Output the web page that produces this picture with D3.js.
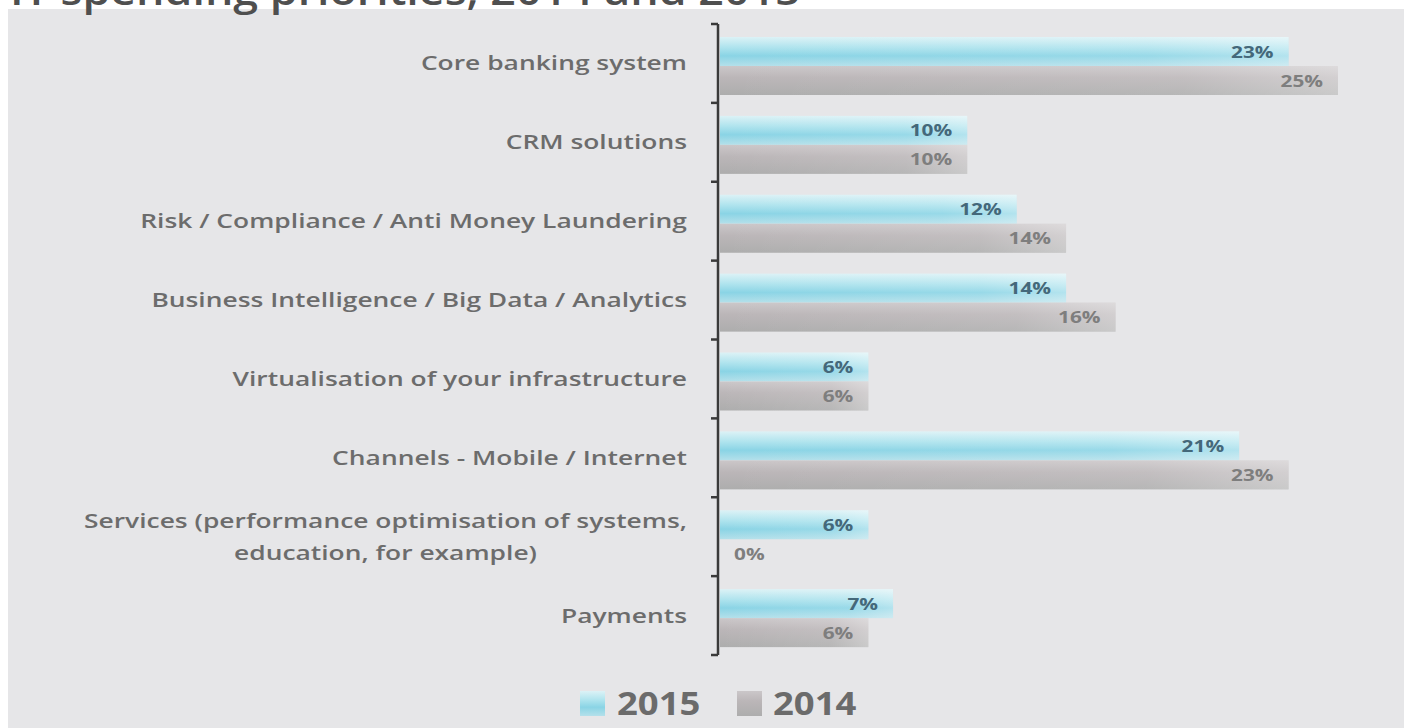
<!DOCTYPE html>
<html>
<head>
<meta charset="utf-8">
<script src="https://cdn.jsdelivr.net/npm/d3@7"></script>
<style>
  html, body { margin: 0; padding: 0; background: #ffffff; }
  svg { display: block; }
  text { font-family: "Open Sans", "DejaVu Sans", sans-serif; }
</style>
</head>
<body>
<svg id="chart" width="1404" height="728"></svg>
<script>
// Survey data: share of IT spending priorities by area
const categories = [
  "Core banking system",
  "CRM solutions",
  "Risk / Compliance / Anti Money Laundering",
  "Business Intelligence / Big Data / Analytics",
  "Virtualisation of your infrastructure",
  "Channels - Mobile / Internet",
  "Services (performance optimisation of systems,\neducation, for example)",
  "Payments"
];
const values2015 = [23, 10, 12, 14, 6, 21, 6, 7];
const values2014 = [25, 10, 14, 16, 6, 23, 0, 6];
const seriesNames = ["2015", "2014"];
const titleText = "IT spending priorities, 2014 and 2015";

const W = 1404, H = 728;
// horizontal stretch applied to the lettering
const SX_TITLE = 1.12, SX_LABEL = 1.32, SX_VALUE = 1.3, SX_LEGEND = 1.14;

const svg = d3.select("#chart");
const defs = svg.append("defs");

// Bar gradients
const g15 = defs.append("linearGradient").attr("id", "grad2015")
  .attr("x1", 0).attr("y1", 0).attr("x2", 0).attr("y2", 1);
[[0, "#dcf2f6"], [0.35, "#b0e4ee"], [0.65, "#8ad4e5"], [1, "#b4e0ea"]]
  .forEach(([o, c]) => g15.append("stop").attr("offset", o).attr("stop-color", c));

const g14 = defs.append("linearGradient").attr("id", "grad2014")
  .attr("x1", 0).attr("y1", 0).attr("x2", 0).attr("y2", 1);
[[0, "#cbc7c9"], [0.4, "#bbb6b8"], [1, "#adadad"]]
  .forEach(([o, c]) => g14.append("stop").attr("offset", o).attr("stop-color", c));

// Light fade toward the end of each bar
const fade = defs.append("linearGradient").attr("id", "fade")
  .attr("x1", 0).attr("y1", 0).attr("x2", 1).attr("y2", 0);
fade.append("stop").attr("offset", 0).attr("stop-color", "#ffffff").attr("stop-opacity", 0);
fade.append("stop").attr("offset", 0.75).attr("stop-color", "#ffffff").attr("stop-opacity", 0.12);
fade.append("stop").attr("offset", 1).attr("stop-color", "#ffffff").attr("stop-opacity", 0.35);

// Panel background
svg.append("rect").attr("x", 8).attr("y", 9).attr("width", W - 8).attr("height", H - 9)
  .attr("fill", "#e6e6e8");

// Title (runs off the top edge)
svg.append("text")
  .attr("transform", `translate(10,5) scale(${SX_TITLE},1)`)
  .attr("font-size", 40).attr("font-weight", 600).attr("fill", "#4f4f4f")
  .text(titleText);

// Scales
const x = d3.scaleLinear().domain([0, 25]).range([720, 1338]);
const y = d3.scaleBand().domain(categories).range([24, 655]);
const inner = d3.scaleBand().domain(seriesNames).range([13, 71]);

const rows = categories.map((c, i) => ({ cat: c, v: { "2015": values2015[i], "2014": values2014[i] } }));

const gRows = svg.append("g").selectAll("g").data(rows).join("g")
  .attr("transform", d => `translate(0,${y(d.cat)})`);

seriesNames.forEach(s => {
  gRows.append("rect")
    .attr("x", x(0)).attr("y", inner(s))
    .attr("width", d => x(d.v[s]) - x(0)).attr("height", inner.bandwidth())
    .attr("fill", s === "2015" ? "url(#grad2015)" : "url(#grad2014)");
  gRows.append("rect")
    .attr("x", x(0)).attr("y", inner(s))
    .attr("width", d => x(d.v[s]) - x(0)).attr("height", inner.bandwidth())
    .attr("fill", "url(#fade)");
  gRows.append("text")
    .attr("transform", d => {
      const v = d.v[s];
      const tx = v === 0 ? x(0) + 14 : x(v) - 15;
      return `translate(${tx},${inner(s) + inner.bandwidth() / 2 + 6}) scale(${SX_VALUE},1)`;
    })
    .attr("text-anchor", d => d.v[s] === 0 ? "start" : "end")
    .attr("font-size", 16).attr("font-weight", 700)
    .attr("fill", s === "2015" ? "#44687a" : "#7e7e7e")
    .text(d => d.v[s] + "%");
});

// Category labels, right aligned; multi-line labels centred on their block
const labelRight = 687;
gRows.each(function(d) {
  const lines = d.cat.split("\n");
  const g = d3.select(this);
  const lh = 32;
  const cy = y.bandwidth() / 2 + 7 - (lines.length - 1) * lh / 2;
  const texts = lines.map((ln, k) => g.append("text")
    .attr("font-size", 20).attr("font-weight", 600).attr("fill", "#6c6c6c")
    .attr("text-anchor", "end")
    .attr("transform", `translate(${labelRight},${cy + k * lh}) scale(${SX_LABEL},1)`)
    .text(ln));
  if (lines.length > 1) {
    const widths = texts.map(t => t.node().getComputedTextLength() * SX_LABEL);
    const maxW = d3.max(widths);
    const centre = labelRight - maxW / 2;
    texts.forEach((t, k) => t.attr("text-anchor", "middle")
      .attr("transform", `translate(${centre},${cy + k * lh}) scale(${SX_LABEL},1)`));
  }
});

// Vertical axis with ticks at category boundaries
const axisX = 718;
const ax = svg.append("g");
ax.append("line").attr("x1", axisX).attr("x2", axisX).attr("y1", y.range()[0]).attr("y2", y.range()[1])
  .attr("stroke", "#3a3a3a").attr("stroke-width", 2.5);
const bounds = categories.map(c => y(c)).concat([y.range()[1]]);
ax.selectAll("line.tick").data(bounds).join("line").attr("class", "tick")
  .attr("x1", axisX - 7).attr("x2", axisX).attr("y1", d => d).attr("y2", d => d)
  .attr("stroke", "#3a3a3a").attr("stroke-width", 2.5);

// Legend
const legend = svg.append("g").attr("transform", "translate(0,703)");
const legendPos = [{ sx: 580, tx: 617 }, { sx: 737, tx: 773 }];
seriesNames.forEach((s, i) => {
  legend.append("rect").attr("x", legendPos[i].sx).attr("y", -12).attr("width", 25).attr("height", 25)
    .attr("fill", s === "2015" ? "url(#grad2015)" : "url(#grad2014)");
  legend.append("text")
    .attr("transform", `translate(${legendPos[i].tx},12) scale(${SX_LEGEND},1)`)
    .attr("font-size", 32).attr("font-weight", 700).attr("fill", "#6b6b6b")
    .text(s);
});
</script>
</body>
</html>
